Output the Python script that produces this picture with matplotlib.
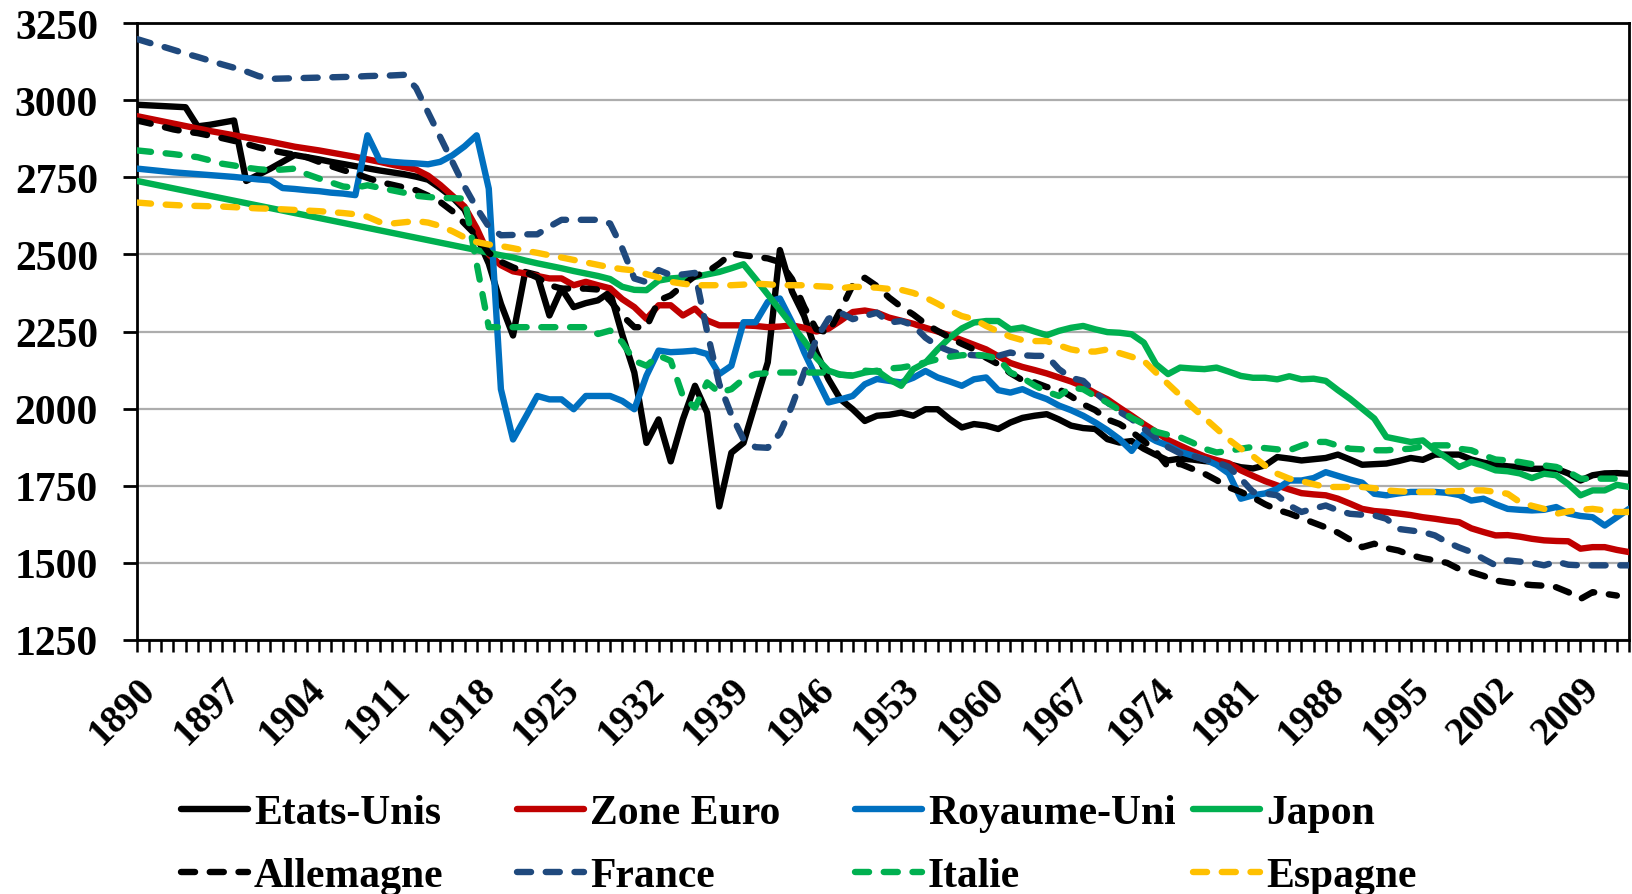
import numpy as np
import matplotlib
matplotlib.use("Agg")
import matplotlib.pyplot as plt
from matplotlib.ticker import MultipleLocator

plt.rcParams["font.family"] = "Liberation Serif"
plt.rcParams["font.weight"] = "bold"

annees = np.arange(1890, 2014)

etats_unis = [
    2985, 2983, 2981, 2979, 2977, 2915, 2920, 2927, 2934, 2738,
    2758, 2778, 2800, 2822, 2815, 2808, 2800, 2793, 2786, 2779,
    2772, 2766, 2760, 2752, 2742, 2715, 2685, 2645, 2560, 2470,
    2340, 2237, 2443, 2433, 2302, 2389, 2329, 2342, 2351, 2378,
    2240, 2117, 1889, 1965, 1829, 1965, 2074, 1987, 1683, 1857,
    1889, 2020, 2150, 2514, 2380, 2300, 2183, 2096, 2030, 1998,
    1960, 1977, 1980, 1987, 1977, 1998, 1998, 1966, 1939, 1950,
    1945, 1934, 1955, 1970, 1977, 1982, 1965, 1945, 1937, 1934,
    1901, 1890, 1895, 1870, 1850, 1832, 1838, 1835, 1830, 1827,
    1820, 1810, 1806, 1816, 1843, 1838, 1832, 1836, 1840, 1851,
    1835, 1818, 1820, 1822, 1830, 1840, 1834, 1851, 1851, 1851,
    1835, 1825, 1818, 1813, 1810, 1805, 1805, 1805, 1790, 1767,
    1784, 1790, 1791, 1789,
]

zone_euro = [
    2948, 2940, 2932, 2924, 2916, 2908, 2900, 2893, 2886, 2879,
    2872, 2865, 2857, 2849, 2843, 2837, 2830, 2823, 2816, 2808,
    2800, 2791, 2783, 2775, 2755, 2725, 2690, 2655, 2585, 2500,
    2465, 2445, 2438, 2430, 2422, 2422, 2400, 2411, 2400, 2390,
    2355, 2329, 2291, 2335, 2335, 2302, 2324, 2286, 2270, 2270,
    2270, 2268, 2264, 2266, 2270, 2262, 2250, 2259, 2285, 2313,
    2318, 2311, 2295, 2285, 2275, 2262, 2250, 2237, 2222, 2207,
    2192, 2170, 2148, 2135, 2125, 2114, 2101, 2088, 2072, 2050,
    2030, 2003, 1977, 1950, 1925, 1898, 1880, 1862, 1845, 1833,
    1823, 1800, 1782, 1765, 1751, 1738, 1726, 1722, 1719, 1708,
    1692, 1675, 1668, 1665, 1660, 1655, 1648, 1643, 1637, 1632,
    1612, 1600, 1589, 1590, 1585, 1578, 1573, 1571, 1570, 1546,
    1551, 1551, 1542, 1535,
]

royaume_uni = [
    2778, 2774, 2770, 2766, 2763, 2760, 2757, 2754, 2751, 2747,
    2743, 2740, 2715, 2712, 2708, 2705, 2700, 2697, 2692, 2886,
    2805, 2800, 2797, 2795, 2792, 2800, 2821, 2850, 2886, 2713,
    2063, 1900, 1970, 2041, 2030, 2030, 1998, 2041, 2041, 2041,
    2025, 1998, 2107, 2188, 2183, 2185, 2188, 2177, 2112, 2139,
    2280, 2280, 2346, 2357, 2280, 2183, 2100, 2020, 2030, 2041,
    2079, 2096, 2090, 2085, 2100, 2122, 2101, 2088, 2074, 2095,
    2101, 2060, 2052, 2063, 2045, 2031, 2010, 1995, 1977, 1955,
    1930, 1901, 1863, 1917, 1895, 1880, 1860, 1848, 1836, 1818,
    1790, 1708, 1719, 1725, 1740, 1767, 1767, 1775, 1794, 1782,
    1770, 1760, 1724, 1719, 1725, 1730, 1730, 1730, 1727, 1720,
    1702, 1708, 1690, 1675, 1672, 1670, 1672, 1681, 1660, 1652,
    1648, 1621, 1648, 1675,
]

japon = [
    2738, 2730, 2722, 2714, 2706, 2698, 2690, 2682, 2674, 2666,
    2658, 2650, 2642, 2634, 2626, 2618, 2610, 2602, 2594, 2586,
    2578, 2570, 2562, 2554, 2546, 2538, 2530, 2522, 2514, 2505,
    2497, 2490, 2480, 2471, 2463, 2455, 2446, 2438, 2430, 2420,
    2395, 2385, 2384, 2415, 2422, 2425, 2427, 2435, 2443, 2455,
    2468, 2420, 2370, 2320, 2270, 2220, 2165, 2123, 2110, 2107,
    2117, 2123, 2095, 2074, 2128, 2149, 2192, 2230, 2260, 2279,
    2284, 2284, 2257, 2263, 2250, 2238, 2252, 2262, 2268, 2257,
    2248, 2246, 2241, 2214, 2144, 2112, 2133, 2130, 2128, 2133,
    2120, 2106, 2100, 2100, 2095, 2105, 2095, 2097, 2090, 2060,
    2032, 2000, 1968, 1908, 1900, 1892, 1897, 1865, 1840, 1811,
    1827, 1815, 1800, 1797, 1790, 1775, 1789, 1784, 1755, 1719,
    1735, 1735, 1753, 1746,
]

allemagne = [
    2934, 2925, 2915, 2905, 2898, 2893, 2885, 2877, 2868, 2858,
    2847, 2838, 2830, 2823, 2815, 2800, 2786, 2773, 2762, 2748,
    2735, 2726, 2717, 2708, 2690, 2670, 2640, 2600, 2560, 2505,
    2476, 2458, 2443, 2425, 2400, 2389, 2389, 2389, 2386, 2350,
    2302, 2264, 2264, 2351, 2367, 2400, 2430, 2443, 2470, 2503,
    2497, 2492, 2487, 2475, 2420, 2330, 2257, 2246, 2320, 2400,
    2424, 2397, 2360, 2330, 2305, 2275, 2252, 2230, 2210, 2192,
    2165, 2144, 2115, 2092, 2085, 2070, 2063, 2040, 2014, 1995,
    1965, 1950, 1925, 1895, 1860, 1811, 1821, 1805, 1789, 1768,
    1745, 1730, 1712, 1690, 1672, 1660, 1645, 1630, 1615, 1598,
    1575, 1551, 1562, 1548, 1540, 1525, 1515, 1508, 1500, 1480,
    1470, 1458, 1443, 1437, 1432, 1428, 1426, 1421, 1405, 1383,
    1405, 1400, 1394, np.nan,
]

france = [
    3198, 3186, 3175, 3163, 3151, 3140, 3128, 3116, 3105, 3093,
    3078, 3069, 3070, 3071, 3072, 3073, 3074, 3075, 3076, 3078,
    3079, 3080, 3082, 3040, 2960, 2880, 2800, 2720, 2650, 2590,
    2562, 2563, 2565, 2565, 2590, 2612, 2612, 2612, 2612, 2600,
    2520, 2422, 2410, 2449, 2433, 2435, 2440, 2250, 2080, 1980,
    1900, 1875, 1873, 1920, 2009, 2117, 2226, 2291, 2311, 2290,
    2300, 2311, 2279, 2284, 2270, 2230, 2203, 2187, 2176, 2173,
    2171, 2171, 2182, 2173, 2171, 2171, 2128, 2100, 2090, 2052,
    2020, 1990, 1966, 1935, 1905, 1875, 1855, 1847, 1835, 1827,
    1811, 1773, 1730, 1725, 1719, 1686, 1665, 1676, 1686, 1670,
    1659, 1656, 1654, 1643, 1610, 1605, 1600, 1589, 1567, 1550,
    1535, 1513, 1492, 1508, 1504, 1500, 1492, 1504, 1494, 1492,
    1492, 1492, 1492, 1492,
]

italie = [
    2837, 2833, 2829, 2825, 2820, 2815, 2805, 2794, 2788, 2781,
    2776, 2773, 2775, 2778, 2760, 2746, 2733, 2720, 2716, 2724,
    2716, 2708, 2700, 2690, 2686, 2683, 2682, 2681, 2470, 2264,
    2264, 2264, 2264, 2264, 2264, 2264, 2264, 2264, 2242, 2253,
    2215, 2155, 2139, 2172, 2155, 2041, 2003, 2085, 2052, 2063,
    2096, 2112, 2115, 2117, 2117, 2117, 2117, 2117, 2110, 2107,
    2123, 2120, 2130, 2133, 2140, 2150, 2160, 2168, 2173, 2175,
    2171, 2162, 2117, 2100, 2075, 2055, 2041, 2068, 2063, 2040,
    2020, 1995, 1970, 1950, 1925, 1915, 1907, 1890, 1870, 1858,
    1863, 1870, 1876, 1872, 1868, 1865, 1880, 1892, 1892, 1880,
    1870, 1868, 1865, 1865, 1868, 1870, 1878, 1881, 1881, 1870,
    1865, 1849, 1835, 1832, 1827, 1820, 1816, 1811, 1795, 1773,
    1773, 1773, 1773, np.nan,
]

espagne = [
    2668, 2665, 2662, 2660, 2658, 2657, 2656, 2655, 2653, 2651,
    2649, 2648, 2646, 2644, 2642, 2640, 2637, 2634, 2630, 2622,
    2605, 2600, 2604, 2608, 2603, 2592, 2575, 2555, 2540, 2532,
    2527, 2520, 2512, 2505, 2497, 2490, 2482, 2474, 2466, 2458,
    2452, 2448, 2436, 2425, 2411, 2405, 2400, 2400, 2400, 2400,
    2402, 2405, 2403, 2400, 2400, 2400, 2397, 2395, 2390, 2395,
    2394, 2392, 2388, 2385, 2375, 2360, 2340, 2318, 2300, 2290,
    2268, 2250, 2233, 2222, 2219, 2219, 2205, 2192, 2185, 2185,
    2192, 2180, 2168, 2155, 2117, 2080, 2043, 2005, 1970, 1935,
    1900, 1870, 1846, 1815, 1789, 1773, 1765, 1755, 1746, 1746,
    1746, 1746, 1742, 1735, 1732, 1730, 1730, 1730, 1732, 1733,
    1735, 1735, 1730, 1724, 1697, 1685, 1675, 1659, 1667, 1672,
    1675, 1670, 1665, 1665,
]

# nom, valeurs, couleur, tirets
series = [
    ("Etats-Unis", etats_unis, "#000000", None),
    ("Zone Euro", zone_euro, "#C00000", None),
    ("Royaume-Uni", royaume_uni, "#0070C0", None),
    ("Japon", japon, "#00B050", None),
    ("Allemagne", allemagne, "#000000", (2.2, 2.3)),
    ("France", france, "#1F497D", (2.2, 2.3)),
    ("Italie", italie, "#00B050", (2.2, 2.3)),
    ("Espagne", espagne, "#FFC000", (2.2, 2.3)),
]

fig = plt.figure(figsize=(16.32, 8.95), dpi=100)
ax = fig.add_axes([137 / 1632, 1 - 641 / 895, 1492 / 1632, 617 / 895])

lw = 4.6
lignes = []
for nom, vals, couleur, tirets in series:
    if tirets is None:
        l, = ax.plot(annees, vals, color=couleur, lw=lw, label=nom,
                     solid_capstyle="round", solid_joinstyle="round", zorder=3)
    else:
        l, = ax.plot(annees, vals, color=couleur, lw=lw, label=nom,
                     dashes=tirets, dash_capstyle="round",
                     dash_joinstyle="round", zorder=3)
    lignes.append(l)

ax.set_xlim(1890, 2013)
ax.set_ylim(1250, 3250)
ax.xaxis.set_major_locator(MultipleLocator(7))
ax.xaxis.set_minor_locator(MultipleLocator(1))
ax.yaxis.set_major_locator(MultipleLocator(250))

ax.grid(axis="y", color="#ADADAD", lw=1.6, zorder=0)
ax.set_axisbelow(True)
for s in ax.spines.values():
    s.set_linewidth(2.0)
    s.set_color("black")

ax.tick_params(axis="y", which="major", direction="out", length=10, width=2,
               pad=18, labelsize=30)
ax.tick_params(axis="x", which="both", direction="out", length=8.6, width=1.8)
ax.tick_params(axis="x", which="major", pad=13, labelsize=28)
for lab in ax.get_xticklabels():
    lab.set_rotation(45)
    lab.set_ha("right")
    lab.set_va("top")
    lab.set_rotation_mode("anchor")

# legende : 4 colonnes x 2 lignes, positions fixes comme dans Excel
col_x = [181 / 1632, 517 / 1632, 855 / 1632, 1193 / 1632]
row_y = [1 - 814 / 895, 1 - 877 / 895]
for i, l in enumerate(lignes):
    fig.legend([l], [l.get_label()], loc="center left",
               bbox_to_anchor=(col_x[i % 4], row_y[i // 4]),
               frameon=False, borderpad=0, borderaxespad=0,
               handlelength=1.6, handletextpad=0.15,
               prop={"family": "Liberation Serif", "weight": "bold", "size": 30})

fig.savefig("out.png", dpi=100)
